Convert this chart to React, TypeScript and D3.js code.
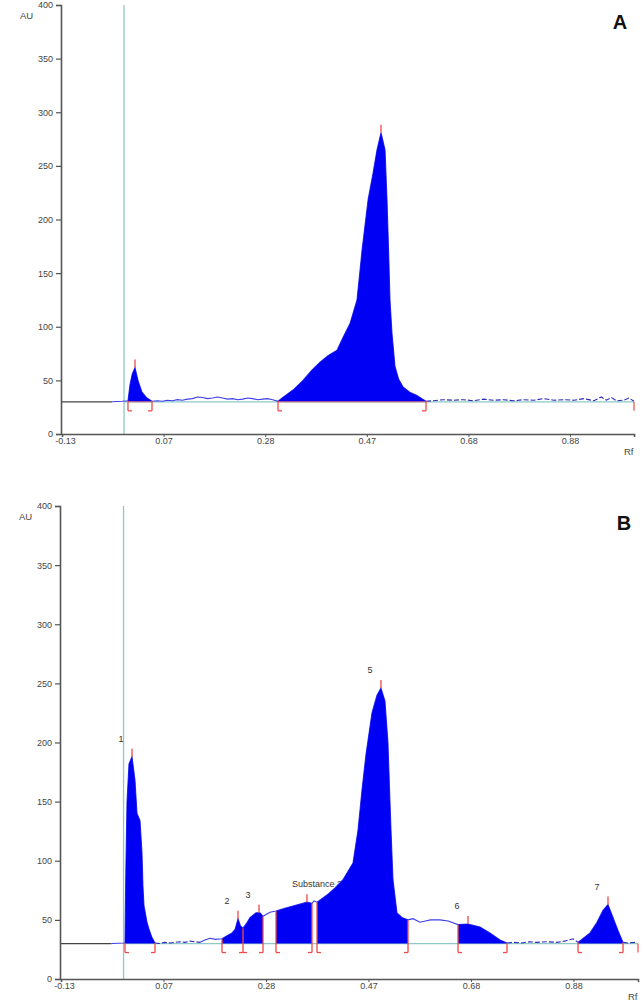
import * as d3 from "d3";
import { useEffect, useRef } from "react";

type Pt = [number, number];

// axis values
const yTicks = [0, 50, 100, 150, 200, 250, 300, 350, 400];
const xTickValues = [-0.13, 0.0725, 0.275, 0.4775, 0.68, 0.8825];
const xTickLabels = ["-0.13", "0.07", "0.28", "0.47", "0.68", "0.88"];
const rfDomain = [-0.13, 1.01];
const auDomain = [0, 400];
const baselineAU = 30;
const startLineRf = -0.0064;
const traceStartRf = -0.03;

// panel A scan (Rf, AU)
const traceA: Pt[] = [
  [-0.03, 30], [-0.01, 30.5], [0.0015, 31], [0.0055, 46], [0.01, 56], [0.0155, 62],
  [0.0215, 50], [0.0294, 39], [0.0394, 33.5], [0.0494, 30.5],
  [0.06, 31], [0.07, 30.5], [0.08, 31.5], [0.09, 31], [0.10, 32], [0.11, 31.5],
  [0.12, 32.5], [0.13, 33], [0.14, 34.5], [0.15, 34], [0.16, 33], [0.17, 33.5],
  [0.18, 34.5], [0.19, 33.5], [0.20, 32.5], [0.21, 33], [0.22, 32], [0.23, 32.5],
  [0.24, 33.5], [0.25, 33], [0.26, 32], [0.27, 32.5], [0.28, 33], [0.29, 32],
  [0.3005, 30.5], [0.31, 34], [0.3304, 41], [0.3503, 50], [0.367, 59], [0.3842, 67],
  [0.40, 73], [0.4181, 78], [0.43, 90], [0.444, 103], [0.4579, 125], [0.4679, 171],
  [0.4799, 218], [0.4898, 243], [0.4978, 265], [0.5058, 281], [0.5138, 265],
  [0.5178, 218], [0.521, 170], [0.5237, 125], [0.5277, 94], [0.5337, 63], [0.541, 51],
  [0.5496, 44], [0.563, 39], [0.5775, 36], [0.587, 33], [0.5955, 30.5],
  [0.61, 31], [0.63, 32], [0.65, 31.5], [0.67, 32], [0.69, 31], [0.71, 32.5],
  [0.73, 31.5], [0.75, 32], [0.77, 31], [0.79, 32], [0.81, 31.5], [0.83, 33],
  [0.85, 31.5], [0.87, 32], [0.89, 31.5], [0.91, 33], [0.93, 31], [0.945, 34.5],
  [0.955, 31.5], [0.965, 34], [0.975, 31], [0.99, 31.5], [1.0, 33.5], [1.01, 30.5],
];
// [start, end, apex]
const peaksA = [
  [0.0015, 0.0494, 0.0155],
  [0.3005, 0.5955, 0.5058],
];
const dashedA = [[0.5955, 1.01]];

// panel B scan (Rf, AU)
const traceB: Pt[] = [
  [-0.03, 30], [-0.0036, 30.5], [-0.002, 90], [0.0004, 150], [0.0043, 182], [0.0103, 188],
  [0.0162, 168], [0.0202, 140], [0.0261, 134], [0.03, 107], [0.032, 78], [0.034, 62],
  [0.0399, 48], [0.044, 42], [0.0498, 35], [0.0557, 30.5],
  [0.065, 30], [0.075, 31], [0.085, 30.5], [0.095, 31], [0.105, 31.5], [0.115, 31],
  [0.125, 32], [0.135, 31.5], [0.1446, 31], [0.1544, 33], [0.1644, 34.5], [0.175, 33.5],
  [0.1881, 34],
  [0.198, 36.5], [0.2078, 39], [0.214, 42], [0.2197, 51], [0.2245, 45], [0.2296, 43],
  [0.2365, 47], [0.2434, 52], [0.2553, 56], [0.2632, 56], [0.2691, 53],
  [0.2768, 55], [0.2829, 56.5], [0.2948, 57.5],
  [0.31, 59.5], [0.33, 62], [0.356, 65], [0.3659, 64],
  [0.37, 66], [0.3758, 65],
  [0.3955, 71], [0.4113, 77], [0.4271, 84], [0.4469, 98], [0.4568, 126], [0.4647, 160],
  [0.4726, 190], [0.4844, 225], [0.4943, 240], [0.5022, 246], [0.5101, 235], [0.516, 200],
  [0.52, 150], [0.522, 126], [0.5259, 84], [0.5338, 56], [0.5437, 52], [0.5556, 50],
  [0.5654, 51], [0.5793, 48], [0.59, 49], [0.60, 50], [0.6188, 50], [0.635, 49], [0.6544, 46],
  [0.6741, 46.5], [0.6978, 44], [0.7176, 39], [0.7373, 33], [0.7512, 30.5],
  [0.765, 31], [0.78, 30.5], [0.795, 31.5], [0.81, 31], [0.83, 31.5], [0.85, 31],
  [0.865, 32], [0.8816, 34], [0.8915, 31],
  [0.9152, 39], [0.929, 48], [0.9408, 58], [0.9507, 63], [0.9606, 52], [0.9705, 41], [0.9804, 31],
  [0.99, 30.5], [1.0061, 31],
];
const peaksB = [
  [-0.0036, 0.0557, 0.0103],
  [0.1881, 0.2296, 0.2197],
  [0.2296, 0.2691, 0.2612],
  [0.2948, 0.3659, 0.356],
  [0.3758, 0.5556, 0.5022],
  [0.6544, 0.7512, 0.6741],
  [0.8915, 0.9804, 0.9507],
];
const peakLabelsB = ["1", "2", "3", "Substance 2", "5", "6", "7"];
const dashedB = [[0.0557, 0.145], [0.7512, 0.8915], [0.9804, 1.01]];

const FONT = "'Liberation Sans', Arial, sans-serif";
const RED = "#f04a4a";
const TEAL = "#8ec8c8";
const FILL = "#0000f5";
const LINE = "#3e3ee8";

function valueAt(trace: Pt[], rf: number) {
  const i = d3.bisector((d: Pt) => d[0]).left(trace, rf);
  if (i <= 0) return trace[0][1];
  if (i >= trace.length) return trace[trace.length - 1][1];
  const a = trace[i - 1], b = trace[i];
  if (b[0] === rf) return b[1];
  const t = (rf - a[0]) / (b[0] - a[0]);
  return a[1] + t * (b[1] - a[1]);
}

function slice(trace: Pt[], a: number, b: number): Pt[] {
  const inner = trace.filter(d => d[0] > a && d[0] < b);
  return [[a, valueAt(trace, a)], ...inner, [b, valueAt(trace, b)]];
}

function drawPanel(svgEl: SVGSVGElement, opts: any) {
  const { trace, peaks, labels, dashed, letter, xRange, yRange, redBase } = opts;
  const g = d3.select(svgEl).append("g");
  const x = d3.scaleLinear().domain(rfDomain).range(xRange);
  const y = d3.scaleLinear().domain(auDomain).range(yRange);
  const yb = y(baselineAU);

  // start line (vertical teal)
  g.append("line")
    .attr("x1", x(startLineRf)).attr("x2", x(startLineRf))
    .attr("y1", y(auDomain[1])).attr("y2", y(0))
    .attr("stroke", TEAL).attr("stroke-width", 1.3);

  // baseline: gray lead-in then teal
  g.append("line")
    .attr("x1", x(rfDomain[0])).attr("x2", x(traceStartRf))
    .attr("y1", yb).attr("y2", yb)
    .attr("stroke", "#444").attr("stroke-width", 1.2);
  g.append("line")
    .attr("x1", x(startLineRf)).attr("x2", x(rfDomain[1]))
    .attr("y1", yb).attr("y2", yb)
    .attr("stroke", TEAL).attr("stroke-width", 1.3);

  // peak labels (under the fills)
  if (labels) {
    peaks.forEach((p: number[], i: number) => {
      const ax = x(p[2]);
      const ay = y(valueAt(trace, p[2])) - 9;
      const long = labels[i].length > 2;
      g.append("text")
        .attr("x", long ? ax - 15 : ax - 11)
        .attr("y", ay - 6)
        .attr("text-anchor", long ? "start" : "middle")
        .attr("font-family", FONT).attr("font-size", 9).attr("fill", "#333")
        .text(labels[i]);
    });
  }

  // trace line: solid and dashed pieces
  const line = d3.line<Pt>().x(d => x(d[0])).y(d => y(d[1]));
  const tStart = trace[0][0], tEnd = trace[trace.length - 1][0];
  let cur = tStart;
  dashed.forEach((r: number[]) => {
    g.append("path").attr("d", line(slice(trace, cur, r[0])))
      .attr("fill", "none").attr("stroke", LINE).attr("stroke-width", 1.1);
    g.append("path").attr("d", line(slice(trace, r[0], Math.min(r[1], tEnd))))
      .attr("fill", "none").attr("stroke", "#2a2ab8").attr("stroke-width", 1.1)
      .attr("stroke-dasharray", "5,2");
    cur = Math.min(r[1], tEnd);
  });
  if (cur < tEnd) {
    g.append("path").attr("d", line(slice(trace, cur, tEnd)))
      .attr("fill", "none").attr("stroke", LINE).attr("stroke-width", 1.1);
  }

  // filled peaks
  const area = d3.area<Pt>().x(d => x(d[0])).y0(yb).y1(d => y(d[1]));
  peaks.forEach((p: number[]) => {
    g.append("path").attr("d", area(slice(trace, p[0], p[1]))).attr("fill", FILL);
    if (redBase) {
      g.append("line")
        .attr("x1", x(p[0])).attr("x2", x(p[1])).attr("y1", yb).attr("y2", yb)
        .attr("stroke", "#d86a6a").attr("stroke-width", 1);
    }
  });

  // boundary brackets
  const bracket = (rf: number, left: boolean, right: boolean) => {
    const bx = x(rf);
    const top = Math.min(y(valueAt(trace, rf)), yb);
    const bot = yb + 9;
    g.append("line").attr("x1", bx).attr("x2", bx).attr("y1", top).attr("y2", bot)
      .attr("stroke", RED).attr("stroke-width", 1.3);
    if (right) g.append("line").attr("x1", bx).attr("x2", bx + 4).attr("y1", bot).attr("y2", bot)
      .attr("stroke", RED).attr("stroke-width", 1.3);
    if (left) g.append("line").attr("x1", bx - 4).attr("x2", bx).attr("y1", bot).attr("y2", bot)
      .attr("stroke", RED).attr("stroke-width", 1.3);
  };
  peaks.forEach((p: number[], i: number) => {
    const prev = peaks[i - 1];
    const shared = prev && prev[1] === p[0];
    bracket(p[0], !!shared, true);
    const next = peaks[i + 1];
    if (!(next && next[0] === p[1])) bracket(p[1], true, false);
  });
  // end-of-scan marker
  g.append("line").attr("x1", x(rfDomain[1])).attr("x2", x(rfDomain[1]))
    .attr("y1", yb).attr("y2", yb + 9).attr("stroke", RED).attr("stroke-width", 1.2);

  // apex markers
  peaks.forEach((p: number[]) => {
    const ay = y(valueAt(trace, p[2]));
    g.append("line").attr("x1", x(p[2])).attr("x2", x(p[2]))
      .attr("y1", ay).attr("y2", ay - 8).attr("stroke", RED).attr("stroke-width", 1.3);
  });

  // y axis
  const yAxis = g.append("g").attr("transform", `translate(${xRange[0] - 1},0)`)
    .call(d3.axisLeft(y).tickValues(yTicks).tickSize(5).tickPadding(3).tickFormat(d3.format("d")));
  yAxis.select(".domain").attr("stroke", "#555").attr("stroke-width", 1.6);
  yAxis.selectAll(".tick line").attr("stroke", "#555").attr("stroke-width", 1.2);
  yAxis.selectAll(".tick text").attr("font-family", FONT).attr("font-size", 9).attr("fill", "#444");

  // x axis
  const xAxis = g.append("g").attr("transform", `translate(0,${y(0)})`)
    .call(d3.axisBottom(x).tickValues(xTickValues).tickSize(3).tickPadding(1)
      .tickFormat((_d, i) => xTickLabels[i]));
  xAxis.select(".domain").attr("stroke", "#555").attr("stroke-width", 1.6);
  xAxis.selectAll(".tick line").attr("stroke", "#555").attr("stroke-width", 1);
  xAxis.selectAll(".tick text").attr("font-family", FONT).attr("font-size", 9).attr("fill", "#444")
    .attr("dx", (_d, i) => (i === 0 ? 3 : 0));

  g.append("text").attr("x", xRange[0] - 42).attr("y", y(auDomain[1]) + 14)
    .attr("font-family", FONT).attr("font-size", 9.5).attr("fill", "#444").text("AU");
  g.append("text").attr("x", xRange[1] - 10).attr("y", y(0) + 21)
    .attr("font-family", FONT).attr("font-size", 9.5).attr("fill", "#444").text("Rf");
  g.append("text").attr("x", xRange[1] - 14).attr("y", y(auDomain[1]) + 24)
    .attr("text-anchor", "middle")
    .attr("font-family", FONT).attr("font-size", 20).attr("font-weight", "bold").attr("fill", "#111")
    .text(letter);
}

export default function App() {
  const svgRef = useRef<SVGSVGElement>(null);

  useEffect(() => {
    if (!svgRef.current) return;
    d3.select(svgRef.current).selectAll("*").remove();
    drawPanel(svgRef.current, {
      trace: traceA, peaks: peaksA, labels: null, dashed: dashedA, letter: "A",
      xRange: [62, 634], yRange: [434, 5], redBase: true,
    });
    drawPanel(svgRef.current, {
      trace: traceB, peaks: peaksB, labels: peakLabelsB, dashed: dashedB, letter: "B",
      xRange: [61, 638], yRange: [979, 506], redBase: false,
    });
  }, []);

  return (
    <svg ref={svgRef} width={644} height={1004}
      style={{ position: "absolute", left: 0, top: 0, background: "#fff" }} />
  );
}
